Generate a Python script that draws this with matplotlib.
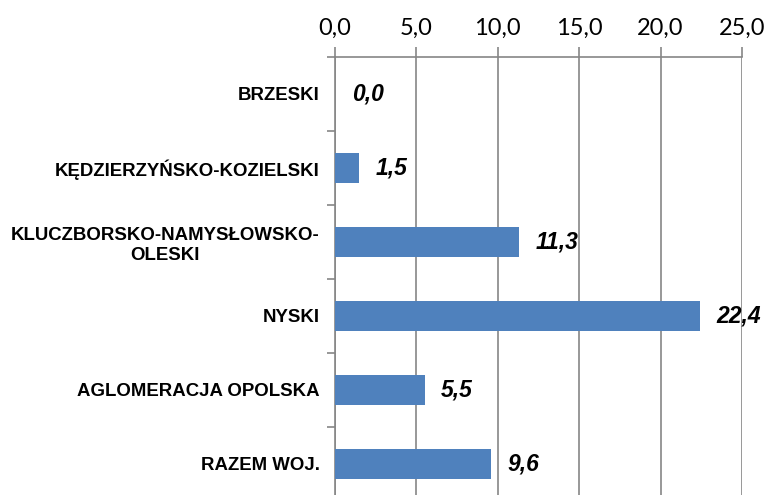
import matplotlib.pyplot as plt
from matplotlib.ticker import FuncFormatter, MultipleLocator
import numpy as np

# Wartości dla poszczególnych obszarów
categories = ['BRZESKI', 'KĘDZIERZYŃSKO-KOZIELSKI', 'KLUCZBORSKO-NAMYSŁOWSKO-\nOLESKI',
              'NYSKI', 'AGLOMERACJA OPOLSKA', 'RAZEM WOJ.']
values = [0.0, 1.5, 11.3, 22.4, 5.5, 9.6]
x_ticks = [0, 5, 10, 15, 20, 25]

bar_color = '#4F81BD'
grid_color = '#868686'

fig = plt.figure(figsize=(7.66, 4.95), dpi=100)
ax = fig.add_axes([0.4373, -0.012, 0.5313, 0.8970])

y = np.arange(len(categories))
ax.barh(y, values, height=0.4, color=bar_color, zorder=3)

ax.set_ylim(len(categories) - 0.5, -0.5)
ax.set_xlim(0, 25)

# Oś X u góry, format z przecinkiem
ax.xaxis.tick_top()
ax.set_xticks(x_ticks)
ax.xaxis.set_major_formatter(FuncFormatter(lambda v, p: f'{v:.1f}'.replace('.', ',')))
ax.tick_params(axis='x', length=7, width=1.2, color=grid_color, pad=6,
               labelsize=17, labelcolor='#000000')
for lbl in ax.get_xticklabels():
    lbl.set_family(['Lato', 'DejaVu Sans'])

ax.grid(axis='x', color=grid_color, linewidth=1.2, zorder=0)

# Etykiety kategorii
ax.set_yticks(y)
ax.set_yticklabels(categories, fontweight='bold', fontsize=13.4,
                   family=['Liberation Sans', 'DejaVu Sans'], linespacing=1.25,
                   multialignment='center')
ax.tick_params(axis='y', which='major', length=0, pad=11)
ax.yaxis.set_minor_locator(MultipleLocator(1, offset=0.5))
ax.tick_params(axis='y', which='minor', length=6, width=1.2, color=grid_color)

for side in ['right', 'bottom']:
    ax.spines[side].set_visible(False)
for side in ['top', 'left']:
    ax.spines[side].set_color(grid_color)
    ax.spines[side].set_linewidth(1.2)

# Wartości przy słupkach
for yi, v in zip(y, values):
    ax.annotate(f'{v:.1f}'.replace('.', ','), (v, yi), xytext=(12, 0),
                textcoords='offset points', va='center', ha='left',
                fontsize=16.5, fontweight='bold', fontstyle='italic',
                family=['Liberation Sans', 'DejaVu Sans'], zorder=4)

plt.savefig('out.png', dpi=100)
